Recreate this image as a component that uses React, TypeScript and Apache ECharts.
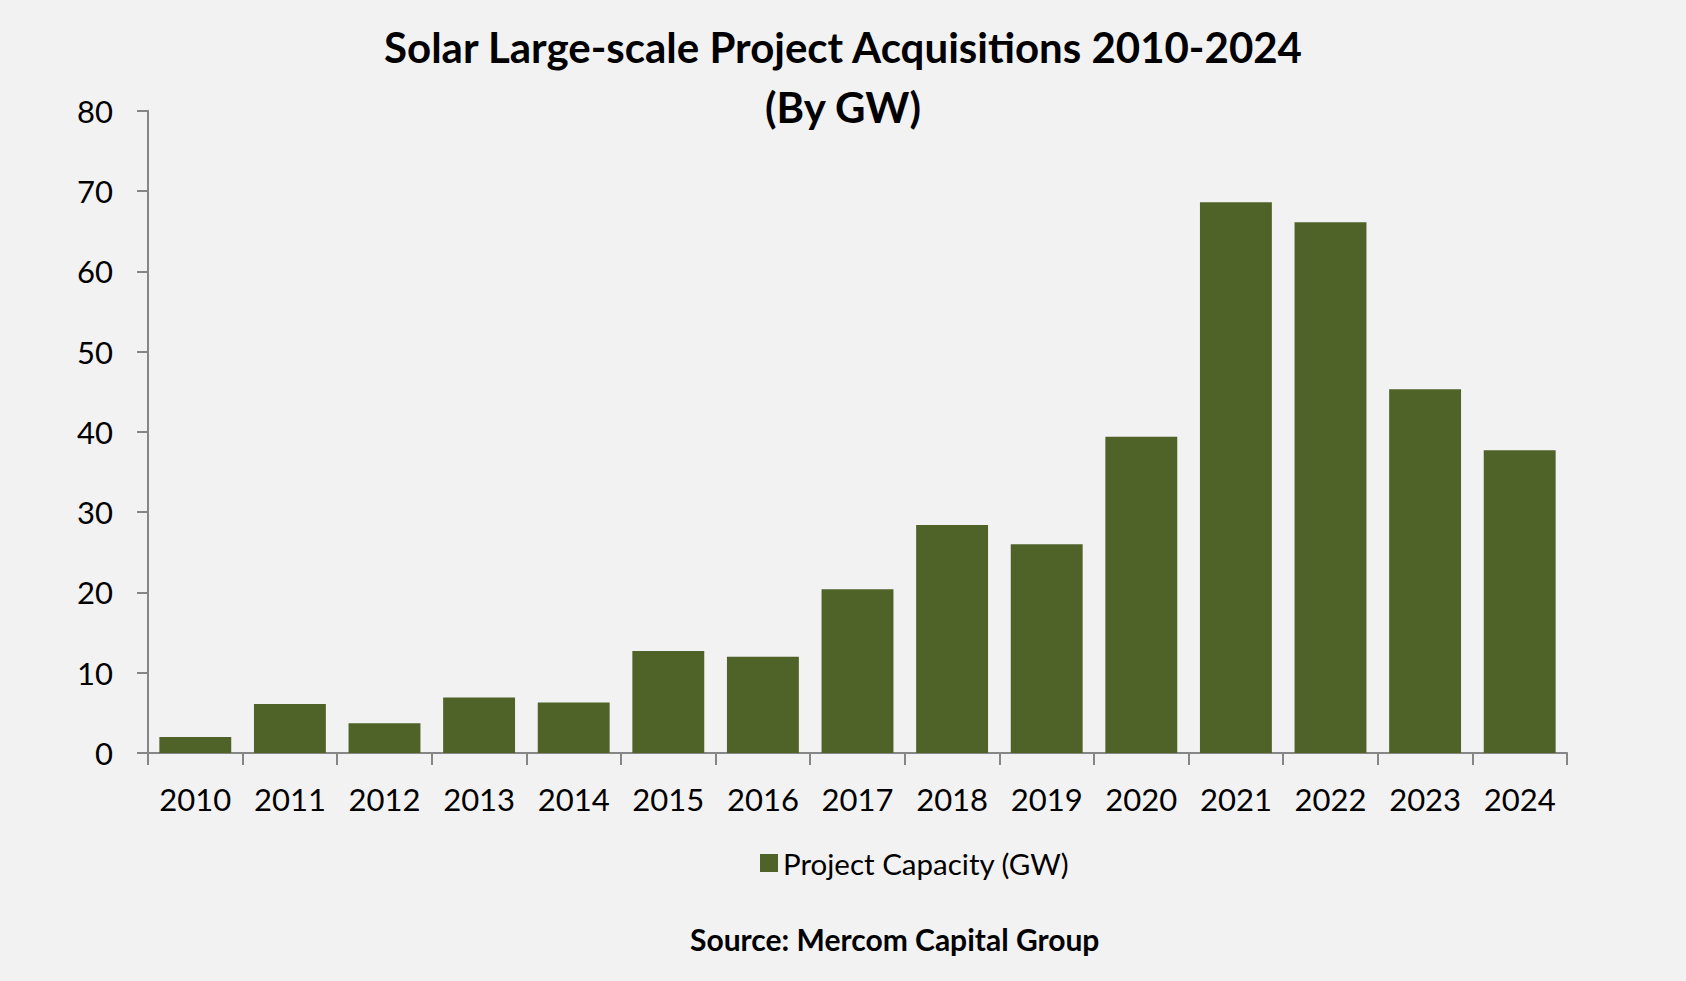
import React, { useEffect, useRef } from "react";
import * as echarts from "echarts";

const categories = ["2010", "2011", "2012", "2013", "2014", "2015", "2016", "2017", "2018", "2019", "2020", "2021", "2022", "2023", "2024"];
const capacityGW = [2.0, 6.1, 3.7, 6.9, 6.3, 12.7, 12.0, 20.4, 28.4, 26.0, 39.4, 68.6, 66.1, 45.3, 37.7];
const seriesName = "Project Capacity (GW)";
const titleLine1 = "Solar Large-scale Project Acquisitions 2010-2024";
const titleLine2 = "(By GW)";
const sourceText = "Source: Mercom Capital Group";

const FONT = "Lato, 'Open Sans', 'Noto Sans', sans-serif";
const AXIS_COLOR = "#868686";

export default function App() {
  const ref = useRef<HTMLDivElement>(null);
  useEffect(() => {
    document.body.style.margin = "0";
    document.body.style.background = "#f2f2f2";
    const chart = echarts.init(ref.current!, undefined, { renderer: "svg" });
    const titleStyle = {
      fontFamily: FONT,
      fontWeight: "bold",
      fontSize: 42,
      lineHeight: 42,
      color: "#000",
    };
    chart.setOption({
      animation: false,
      backgroundColor: "#f2f2f2",
      textStyle: { fontFamily: FONT },
      title: [
        { text: titleLine1, left: "center", top: 26, padding: 0, textStyle: titleStyle },
        { text: titleLine2, left: "center", top: 85.5, padding: 0, textStyle: titleStyle },
        {
          text: sourceText,
          left: 690,
          top: 924,
          padding: 0,
          textStyle: {
            fontFamily: FONT,
            fontWeight: "bold",
            fontSize: 30,
            color: "#000",
          },
        },
      ],
      legend: {
        data: [seriesName],
        left: 760,
        top: 848,
        padding: 0,
        itemWidth: 18,
        itemHeight: 18,
        icon: "rect",
        textStyle: { fontFamily: FONT, fontSize: 29.5, color: "#000" },
      },
      grid: { left: 148, right: 119, top: 110.7, bottom: 228, containLabel: false },
      xAxis: {
        type: "category",
        data: categories,
        axisLine: { show: true, lineStyle: { color: AXIS_COLOR, width: 2 } },
        axisTick: { show: true, length: 12, lineStyle: { color: AXIS_COLOR, width: 2 } },
        axisLabel: { fontFamily: FONT, fontSize: 31, color: "#000", margin: 30 },
      },
      yAxis: {
        type: "value",
        min: 0,
        max: 80,
        interval: 10,
        splitLine: { show: false },
        axisLine: { show: true, lineStyle: { color: AXIS_COLOR, width: 2 } },
        axisTick: { show: true, length: 11, lineStyle: { color: AXIS_COLOR, width: 2 } },
        axisLabel: { fontFamily: FONT, fontSize: 31, color: "#000", margin: 35 },
      },
      series: [
        {
          name: seriesName,
          type: "bar",
          data: capacityGW,
          barCategoryGap: "24%",
          itemStyle: { color: "#4F6228" },
        },
      ],
    });
    return () => chart.dispose();
  }, []);
  return <div ref={ref} style={{ width: 1686, height: 981 }} />;
}
